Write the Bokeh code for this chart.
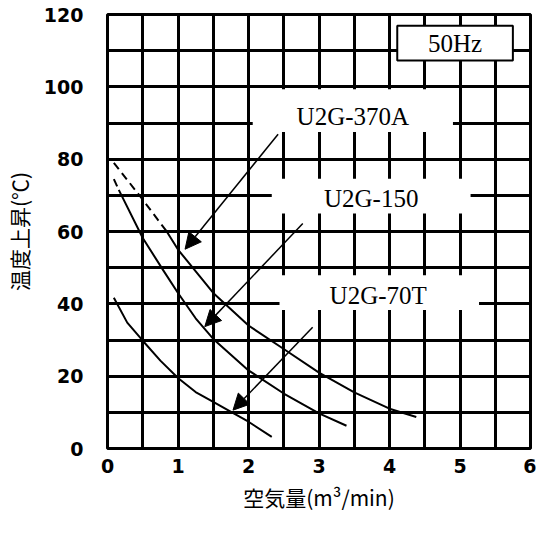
from bokeh.plotting import figure
from bokeh.models import FixedTicker, Arrow, NormalHead, ColumnDataSource
from bokeh.core.properties import value
from bokeh.embed import file_html
from bokeh.resources import INLINE

# ---- data ----
x_ticks = [0, 1, 2, 3, 4, 5, 6]
y_ticks = [0, 20, 40, 60, 80, 100, 120]
x_grid = [0, 0.5, 1, 1.5, 2, 2.5, 3, 3.5, 4, 4.5, 5, 5.5, 6]
y_grid = [0, 10, 20, 30, 40, 50, 60, 70, 80, 90, 100, 110, 120]

# U2G-370A
a_dash_x = [0.09, 0.5, 0.84]
a_dash_y = [79.0, 68.8, 60.0]
a_x = [0.84, 1.0, 1.5, 2.0, 2.5, 3.0, 3.5, 4.0, 4.38]
a_y = [60.0, 55.0, 43.0, 34.0, 27.5, 21.0, 15.5, 11.0, 8.7]

# U2G-150
b_dash_x = [0.09, 0.16]
b_dash_y = [74.5, 71.5]
b_x = [0.16, 0.5, 0.78, 1.0, 1.25, 1.5, 2.0, 2.5, 3.0, 3.39]
b_y = [71.5, 58.2, 49.6, 43.0, 36.0, 30.3, 21.6, 15.2, 9.7, 6.3]

# U2G-70T
c_x = [0.09, 0.28, 0.5, 0.75, 1.0, 1.25, 1.5, 1.79, 2.0, 2.33]
c_y = [41.7, 34.8, 29.8, 24.3, 19.5, 15.6, 12.9, 9.7, 7.4, 3.2]

# labels and arrows
label_text = ["U2G-370A", "U2G-150", "U2G-70T"]
label_x = [3.48, 3.74, 3.84]
label_y = [91.9, 69.1, 42.2]
label_left = [2.06, 2.33, 2.44]
label_right = [4.90, 5.15, 5.27]
label_top = [99.3, 74.6, 47.9]
label_bottom = [87.5, 65.0, 38.3]

arrow_x0 = [2.42, 2.77, 2.91]
arrow_y0 = [86.9, 62.2, 33.5]
arrow_x1 = [1.10, 1.38, 1.78]
arrow_y1 = [55.1, 33.7, 10.6]

hz_text = ["50Hz"]
hz_x = [4.93]
hz_y = [111.9]
hz_left = [4.11]
hz_right = [5.75]
hz_top = [116.9]
hz_bottom = [107.3]

x_title = "空気量(m³/min)"
y_title = "温度上昇(℃)"

# ---- figure ----
p = figure(width=536, height=517, x_range=(0, 6), y_range=(0, 120),
           output_backend="svg", toolbar_location=None,
           min_border_left=102, min_border_right=6,
           min_border_top=14, min_border_bottom=69)
p.background_fill_color = "white"
p.border_fill_color = "white"
p.outline_line_color = "black"
p.outline_line_width = 3

p.xgrid.ticker = FixedTicker(ticks=x_grid)
p.ygrid.ticker = FixedTicker(ticks=y_grid)
for g in (p.xgrid, p.ygrid):
    g.grid_line_color = "black"
    g.grid_line_width = 3
    g.grid_line_alpha = 1.0

p.xaxis.ticker = FixedTicker(ticks=x_ticks)
p.yaxis.ticker = FixedTicker(ticks=y_ticks)
for ax in (p.xaxis, p.yaxis):
    ax.axis_line_color = None
    ax.major_tick_line_color = None
    ax.minor_tick_line_color = None
    ax.major_tick_out = 0
    ax.major_tick_in = 0
    ax.minor_tick_out = 0
    ax.minor_tick_in = 0
    ax.major_label_text_font = "DejaVu Sans"
    ax.major_label_text_font_style = "bold"
    ax.major_label_text_font_size = "19px"
    ax.major_label_text_color = "black"
    ax.axis_label_text_font = "Noto Sans CJK JP"
    ax.axis_label_text_font_style = "normal"
    ax.axis_label_text_color = "black"

p.xaxis.major_label_standoff = 10
p.yaxis.major_label_standoff = 24
p.xaxis.axis_label = x_title
p.xaxis.axis_label_text_font_size = "21px"
p.xaxis.axis_label_standoff = 6
p.yaxis.axis_label = y_title
p.yaxis.axis_label_text_font_size = "21px"
p.yaxis.axis_label_standoff = 7

# label background boxes
p.quad(left=label_left, right=label_right, top=label_top, bottom=label_bottom,
       fill_color="white", line_color=None)
p.quad(left=hz_left, right=hz_right, top=hz_top, bottom=hz_bottom,
       fill_color="white", line_color="black", line_width=2)

# curves
p.line(a_dash_x, a_dash_y, line_color="black", line_width=2, line_dash="8 5")
p.line(a_x, a_y, line_color="black", line_width=2)
p.line(b_dash_x, b_dash_y, line_color="black", line_width=2, line_dash="8 5")
p.line(b_x, b_y, line_color="black", line_width=2)
p.line(c_x, c_y, line_color="black", line_width=2)

# texts
p.text(x=label_x, y=label_y, text=label_text, text_align="center",
       text_baseline="middle", text_font=value("Liberation Serif"),
       text_font_size="25px", text_color="black")
p.text(x=hz_x, y=hz_y, text=hz_text, text_align="center",
       text_baseline="middle", text_font=value("Liberation Serif"),
       text_font_size="25px", text_color="black")

# arrows
arr_src = ColumnDataSource(dict(x0=arrow_x0, y0=arrow_y0, x1=arrow_x1, y1=arrow_y1))
p.add_layout(Arrow(end=NormalHead(size=16, fill_color="black", line_color="black"),
                   x_start="x0", y_start="y0", x_end="x1", y_end="y1",
                   source=arr_src, line_color="black", line_width=1.5))

open("out.html", "w").write(file_html(p, INLINE))
